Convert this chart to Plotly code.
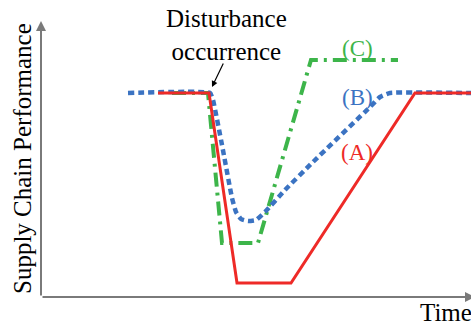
import plotly.graph_objects as go

# time axis (px from y-axis) and performance (px above x-axis)
a_t = [117, 168, 196, 250, 374, 430]
a_p = [204, 204, 14, 14, 204, 204]

b_t = [87, 169, 172, 181, 191, 195, 200, 207, 215, 224, 244, 272, 329, 339, 349, 430]
b_p = [204, 204, 197, 152, 99, 85, 78, 76, 77, 85, 107, 135, 190, 200, 204, 204]

c_t = [131, 167, 181, 217, 270, 357]
c_p = [204, 204, 54, 54, 237, 237]

RED = "#ee2a27"
BLUE = "#3b73c2"
GREEN = "#3db54a"
AXIS = "#7a7a7a"
FONT = "Liberation Serif"

fig = go.Figure()
fig.add_trace(go.Scatter(x=c_t, y=c_p, mode="lines",
                         line=dict(color=GREEN, width=4, dash="14px,6px,3px,6px")))
fig.add_trace(go.Scatter(x=b_t, y=b_p, mode="lines", line_shape="spline",
                         line=dict(color=BLUE, width=4.5, dash="6px,4px", smoothing=0.4)))
fig.add_trace(go.Scatter(x=a_t, y=a_p, mode="lines",
                         line=dict(color=RED, width=3)))

# axes with arrows
fig.add_annotation(x=0, y=276, ax=0, ay=0, xref="x", yref="y", axref="x", ayref="y",
                   text="", showarrow=True, arrowhead=2, arrowsize=1, arrowwidth=2,
                   arrowcolor=AXIS)
fig.add_annotation(x=434, y=0, ax=0, ay=0, xref="x", yref="y", axref="x", ayref="y",
                   text="", showarrow=True, arrowhead=2, arrowsize=1, arrowwidth=2,
                   arrowcolor=AXIS)

# disturbance arrow
fig.add_annotation(x=171, y=210, ax=183, ay=235, xref="x", yref="y", axref="x", ayref="y",
                   text="", showarrow=True, arrowhead=2, arrowsize=1, arrowwidth=1.2,
                   arrowcolor="black")
fig.add_annotation(x=185, y=262, xref="x", yref="y", text="Disturbance<br>occurrence",
                   showarrow=False, font=dict(family=FONT, size=25, color="black"),
                   align="center")

fig.add_annotation(x=316, y=249, text="(C)", showarrow=False,
                   font=dict(family=FONT, size=23, color=GREEN))
fig.add_annotation(x=316, y=200, text="(B)", showarrow=False,
                   font=dict(family=FONT, size=23, color=BLUE))
fig.add_annotation(x=316, y=145, text="(A)", showarrow=False,
                   font=dict(family=FONT, size=23, color=RED))

fig.add_annotation(x=-19, y=138, text="Supply Chain Performance", textangle=-90,
                   showarrow=False, font=dict(family=FONT, size=25, color="black"))
fig.add_annotation(x=377, y=-15, text="Time", showarrow=False, xanchor="left",
                   font=dict(family=FONT, size=25, color="black"))

fig.update_layout(
    width=471, height=321,
    margin=dict(l=0, r=0, t=0, b=0),
    paper_bgcolor="white", plot_bgcolor="white",
    showlegend=False,
    xaxis=dict(range=[-41, 430], visible=False, fixedrange=True),
    yaxis=dict(range=[-24, 297], visible=False, fixedrange=True),
)
fig.write_html("out.html", config={"displayModeBar": False},
               post_script="document.body.style.margin='0';")
